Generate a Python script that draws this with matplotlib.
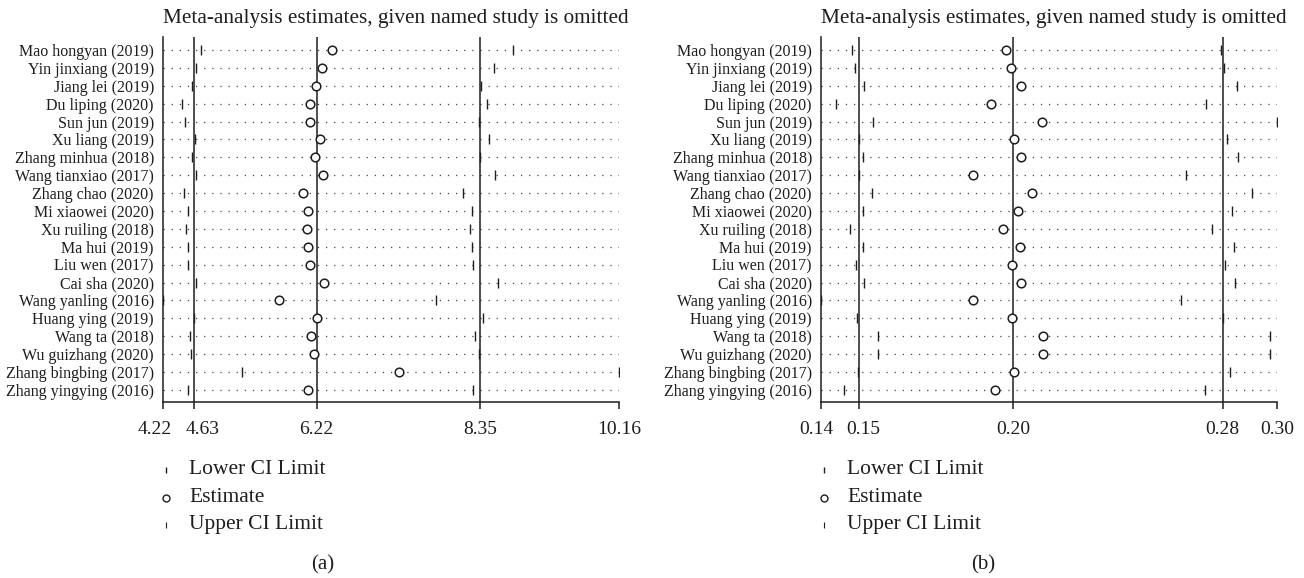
import matplotlib.pyplot as plt
from matplotlib.lines import Line2D
from matplotlib.transforms import ScaledTranslation

plt.rcParams['font.family'] = ['Liberation Serif', 'DejaVu Serif']

studies = ["Mao hongyan (2019)", "Yin jinxiang (2019)", "Jiang lei (2019)",
           "Du liping (2020)", "Sun jun (2019)", "Xu liang (2019)",
           "Zhang minhua (2018)", "Wang tianxiao (2017)", "Zhang chao (2020)",
           "Mi xiaowei (2020)", "Xu ruiling (2018)", "Ma hui (2019)",
           "Liu wen (2017)", "Cai sha (2020)", "Wang yanling (2016)",
           "Huang ying (2019)", "Wang ta (2018)", "Wu guizhang (2020)",
           "Zhang bingbing (2017)", "Zhang yingying (2016)"]

# panel (a)
a_lower = [4.72, 4.65, 4.60, 4.47, 4.51, 4.64, 4.60, 4.65, 4.49, 4.54,
           4.52, 4.54, 4.55, 4.65, 4.22, 4.63, 4.57, 4.59, 5.25, 4.54]
a_est = [6.42, 6.29, 6.21, 6.14, 6.13, 6.27, 6.20, 6.30, 6.05, 6.11,
         6.09, 6.11, 6.13, 6.32, 5.73, 6.22, 6.15, 6.19, 7.30, 6.11]
a_upper = [8.78, 8.53, 8.36, 8.44, 8.34, 8.47, 8.35, 8.54, 8.13, 8.24,
           8.22, 8.24, 8.26, 8.58, 7.78, 8.39, 8.29, 8.33, 10.16, 8.26]
a_overall = [4.63, 6.22, 8.35]

# panel (b)
b_lower = [0.1469, 0.1479, 0.1510, 0.1413, 0.1542, 0.1494, 0.1506, 0.1495, 0.1539, 0.1506,
           0.1461, 0.1509, 0.1482, 0.1510, 0.1360, 0.1488, 0.1561, 0.1561, 0.1491, 0.1439]
b_est = [0.2010, 0.2028, 0.2061, 0.1957, 0.2135, 0.2039, 0.2061, 0.1892, 0.2101, 0.2053,
         0.1998, 0.2057, 0.2031, 0.2061, 0.1892, 0.2029, 0.2138, 0.2141, 0.2039, 0.1970]
b_upper = [0.2763, 0.2776, 0.2819, 0.2711, 0.2961, 0.2786, 0.2823, 0.2642, 0.2873, 0.2804,
           0.2734, 0.2810, 0.2778, 0.2814, 0.2623, 0.2773, 0.2936, 0.2936, 0.2797, 0.2707]
b_overall = [0.1495, 0.2035, 0.2770]

title = "Meta-analysis estimates, given named study is omitted"
legend_labels = ["Lower CI Limit", "Estimate", "Upper CI Limit"]

INK = '#1e1e1e'
W, H = 1304, 578
AX_W = 456


def draw_panel(fig, left_px, lower, est, upper, overall, caption, cap_px):
    ax = fig.add_axes([left_px / W, 1 - 402.3 / H, AX_W / W, (402.3 - 36.5) / H])
    n = len(studies)
    ys = [n - i for i in range(n)]
    xmin, xmax = min(lower), max(upper)

    for y in ys:
        ax.plot([xmin, xmax], [y, y], color='#444444', lw=0.9,
                linestyle=(0, (1, 5.5)), zorder=1)
    for v in overall:
        ax.axvline(v, color=INK, lw=1.1, zorder=2)

    ax.plot(lower, ys, linestyle='none', marker='|', ms=7.5, mew=1.0, color=INK, zorder=3)
    ax.plot(upper, ys, linestyle='none', marker='|', ms=7.5, mew=1.0, color=INK, zorder=3)
    ax.plot(est, ys, linestyle='none', marker='o', ms=6.2, mew=1.1,
            mfc='white', mec=INK, zorder=4)

    ax.set_xlim(xmin, xmax)
    ax.set_ylim(0.31, 20.75)
    ticks = [xmin] + overall + [xmax]
    ax.set_xticks(ticks)
    ax.set_xticklabels(['%.2f' % t for t in ticks], fontsize=14, color=INK)
    ax.set_yticks(ys)
    ax.set_yticklabels(studies, fontsize=11.5, color=INK)
    ax.tick_params(axis='x', direction='out', length=5, width=1.1, color=INK, pad=8.5)
    ax.tick_params(axis='y', length=0, pad=6.5)

    # nudge the two left labels apart when they crowd each other
    gap = (ticks[1] - ticks[0]) / (xmax - xmin) * AX_W
    push = max(0.0, (47 - gap) / 2) / 100
    labs = ax.get_xticklabels()
    labs[0].set_transform(labs[0].get_transform() + ScaledTranslation(-push, 0, fig.dpi_scale_trans))
    labs[1].set_transform(labs[1].get_transform() + ScaledTranslation(push, 0, fig.dpi_scale_trans))

    for side in ['top', 'right']:
        ax.spines[side].set_visible(False)
    for side in ['left', 'bottom']:
        ax.spines[side].set_color(INK)
        ax.spines[side].set_linewidth(1.1)
    ax.patch.set_alpha(0)

    ax.set_title(title, fontsize=15.3, color=INK, pad=10, x=0.51)

    # legend below the axis
    markers = [('|', 5, 1.0), ('o', 5, 1.0), ('|', 5, 0.8)]
    for k, (lab, (m, ms, mew)) in enumerate(zip(legend_labels, markers)):
        ypx = 470 + k * 27.5
        fig.add_artist(Line2D([(left_px + 3) / W], [1 - ypx / H], marker=m, ms=ms,
                              mew=mew, mfc='none', mec=INK, linestyle='none',
                              transform=fig.transFigure))
        fig.text((left_px + 26) / W, 1 - ypx / H, lab, fontsize=15.5, color=INK,
                 va='center', ha='left')

    fig.text(cap_px / W, 1 - 565 / H, caption, fontsize=15, color=INK,
             ha='center', va='center')
    return ax


fig = plt.figure(figsize=(W / 100, H / 100), dpi=100)
draw_panel(fig, 163, a_lower, a_est, a_upper, a_overall, '(a)', 323)
draw_panel(fig, 821, b_lower, b_est, b_upper, b_overall, '(b)', 983)
fig.savefig('out.png', dpi=100)
